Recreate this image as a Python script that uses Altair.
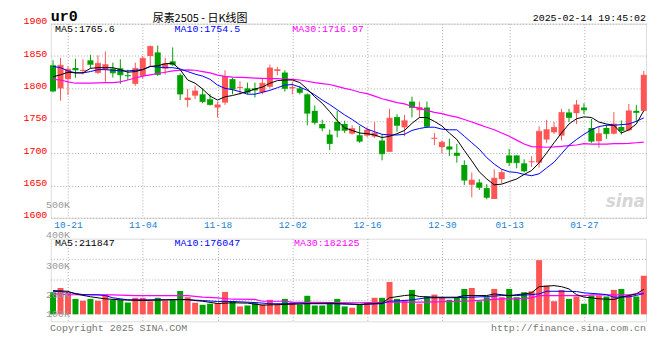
import altair as alt
import pandas as pd

# ---------------- data ----------------
idx = list(range(80))
opens = [1835.7, 1800, 1814.3, 1831.6, 1827, 1843.4, 1824, 1828.6, 1830.6, 1831,
         1820.4, 1807, 1819.4, 1850, 1855.6, 1830.6, 1841.8, 1820.4, 1782, 1788.8,
         1790.8, 1783.2, 1770.4, 1778, 1814.3, 1800.5, 1800, 1800, 1794, 1802.5,
         1827, 1824.5, 1800, 1800, 1790.8, 1765.3, 1744.9, 1728.6, 1748, 1744.9,
         1730, 1727.6, 1727, 1725.5, 1719.4, 1702, 1755.6, 1739.8, 1779.6, 1766.3,
         1770.4, 1722, 1709.2, 1710.2, 1700.5, 1681.6, 1651, 1654.6, 1645.9, 1629,
         1659.7, 1696.4, 1696.4, 1684.2, 1686, 1685.2, 1720.9, 1732.1, 1727, 1762.8,
         1761.7, 1770.4, 1738.8, 1718.4, 1738.8, 1730, 1740.3, 1735.2, 1765.3, 1765.3]
highs = [1843.4, 1847, 1834.2, 1845.9, 1844.9, 1852, 1851, 1857, 1839.8, 1845,
         1829, 1839.8, 1850, 1866.3, 1866.3, 1847.4, 1863.3, 1823, 1799, 1804,
         1800, 1791.3, 1779.6, 1828, 1816.3, 1811, 1809, 1809, 1815.3, 1836.7,
         1833, 1828, 1810, 1804, 1792.3, 1773.5, 1751.5, 1736.2, 1765.3, 1750,
         1742.9, 1742.3, 1739.8, 1748, 1728.6, 1768.4, 1760, 1759, 1787.2, 1779.6,
         1779.6, 1731, 1719.4, 1722.4, 1714.3, 1688.8, 1670, 1659.7, 1652, 1675,
         1675, 1706.6, 1696.4, 1690.3, 1695, 1741.3, 1751.5, 1748, 1768.4, 1768.4,
         1782.1, 1777, 1753, 1741.3, 1743.9, 1763.3, 1750.5, 1776, 1774.5, 1827]
lows = [1793.9, 1781, 1789.8, 1816.3, 1821.4, 1830.6, 1822, 1810, 1816.8, 1807,
        1812.8, 1804, 1815.3, 1834.7, 1819.4, 1821.4, 1834.7, 1782, 1771, 1783.7,
        1777, 1773.5, 1755, 1774.5, 1790.8, 1790, 1791, 1786, 1790.8, 1800,
        1820.4, 1795, 1790.8, 1790.8, 1742.9, 1743.9, 1733.7, 1704.6, 1724.5, 1731,
        1728.6, 1715.8, 1724.5, 1723.5, 1688.8, 1702, 1733, 1726, 1755.1, 1755.1,
        1738.8, 1712.2, 1699.5, 1695.4, 1685.2, 1650.5, 1631.6, 1642.9, 1628.6, 1629,
        1653, 1680, 1676.5, 1670, 1678.6, 1677.6, 1715.8, 1729.6, 1719.4, 1748,
        1744.9, 1760.2, 1715.8, 1708.2, 1722, 1728.6, 1728.6, 1733.7, 1748, 1765.3]
closes = [1795.9, 1835.7, 1829.6, 1828.6, 1828, 1837.2, 1838.8, 1836.7, 1824, 1821,
          1819.4, 1831, 1846.4, 1864.8, 1821.4, 1838.3, 1836.7, 1791.3, 1785.2, 1796,
          1779.6, 1775, 1774.5, 1818.4, 1799, 1801.5, 1794, 1797.4, 1808, 1831.6,
          1829, 1800, 1801.5, 1793.9, 1761.7, 1747.4, 1738.8, 1714.8, 1735.2, 1735.2,
          1737.8, 1718.4, 1735.7, 1731, 1699, 1754, 1742.9, 1750, 1770.4, 1770.4,
          1741.3, 1723, 1716.8, 1706.1, 1696.4, 1658.2, 1658.2, 1647, 1631.6, 1661.2,
          1670, 1685.2, 1685.2, 1672.4, 1686.7, 1733.7, 1736.2, 1739.8, 1762.8, 1755.1,
          1774.5, 1766.8, 1718.4, 1730, 1730, 1744.9, 1734.7, 1765.3, 1762.8, 1820.4]
volumes = [187000, 223000, 187000, 131000, 115000, 131000, 115000, 167000, 123000, 123000,
           100000, 140000, 140000, 111000, 140000, 117000, 123000, 198000, 145000, 98000,
           81000, 90000, 95000, 190000, 111000, 67000, 75000, 95000, 84000, 123000,
           84000, 131000, 103000, 84000, 157000, 75000, 75000, 103000, 131000, 67000,
           56000, 81000, 103000, 140000, 140000, 274000, 131000, 123000, 207000, 90000,
           151000, 167000, 145000, 123000, 145000, 215000, 223000, 111000, 145000, 215000,
           145000, 215000, 145000, 187000, 195000, 458000, 243000, 111000, 207000, 131000,
           151000, 90000, 159000, 159000, 151000, 207000, 215000, 159000, 151000, 326000]

ma5 = [1818, 1821, 1825, 1824, 1824, 1831, 1832, 1832, 1832, 1829,
       1825, 1826, 1829, 1834, 1835, 1838, 1839, 1829, 1813, 1808,
       1799, 1788, 1782, 1787, 1789, 1792, 1795, 1799, 1802, 1808,
       1812, 1813, 1813, 1809, 1799, 1787, 1777, 1764, 1750, 1739,
       1735, 1731, 1730, 1728, 1724, 1726, 1730, 1735, 1746, 1755,
       1755, 1749, 1742, 1731, 1721, 1704, 1688, 1671, 1660, 1651,
       1652, 1656, 1660, 1667, 1673, 1685, 1700, 1716, 1731, 1745,
       1753, 1756, 1755, 1748, 1745, 1743, 1731, 1736, 1745, 1765.6]
ma10 = [1834, 1832, 1827, 1824, 1824, 1826, 1829, 1829, 1828, 1827,
        1827, 1828, 1829, 1834, 1833, 1832, 1832, 1830, 1826, 1822,
        1819, 1814, 1805, 1800, 1798, 1795, 1791, 1791, 1794, 1797,
        1801, 1805, 1806, 1802, 1797, 1790, 1782, 1775, 1767, 1759,
        1752, 1744, 1737, 1733, 1729, 1728, 1728, 1729, 1735, 1738,
        1740, 1740, 1737, 1736, 1736, 1726, 1716, 1706, 1693, 1683,
        1675, 1671, 1670, 1667, 1665, 1668, 1677, 1686, 1699, 1712,
        1721, 1729, 1736, 1741, 1743, 1743, 1744, 1745, 1749, 1754.5]
ma30 = [1814, 1813, 1810, 1808, 1808, 1808, 1808.5, 1809, 1809, 1810,
        1813, 1816, 1819, 1821, 1823, 1825, 1827, 1828, 1828.5, 1828,
        1826, 1824, 1820.5, 1818.5, 1817.5, 1817, 1816.5, 1816, 1815.5, 1815,
        1815, 1814.5, 1814, 1813, 1811, 1809, 1807.5, 1806, 1803, 1800,
        1797.5, 1794, 1792, 1788, 1784, 1781, 1778, 1776, 1772, 1769,
        1766, 1763, 1761, 1758, 1755.5, 1752, 1748, 1744, 1740, 1736,
        1731, 1726, 1720, 1714, 1710, 1709.5, 1709, 1709.5, 1710.5, 1711.5,
        1712.5, 1714.5, 1714, 1714, 1714, 1714.5, 1714.5, 1715, 1716, 1716.97]

vma5_i = [0, 2, 3, 5, 7, 9, 12, 15, 18, 19, 20, 22, 24, 26, 28, 31, 34, 37, 41, 44,
          45, 47, 48, 49, 51, 54, 55, 58, 59, 61, 63, 64, 65, 67, 68, 69, 70, 71, 72, 73,
          75, 76, 77, 78, 79]
vma5 = [201000, 195000, 173000, 149000, 131000, 123000, 117000, 123000, 126000, 117000,
        111000, 92000, 98000, 95000, 78000, 84000, 90000, 95000, 84000, 95000,
        140000, 159000, 165000, 151000, 145000, 145000, 159000, 159000, 173000, 159000,
        173000, 182000, 234000, 243000, 234000, 215000, 167000, 146000, 140000, 131000,
        126000, 145000, 159000, 173000, 211847]
vma10_i = [0, 2, 4, 6, 7, 8, 10, 15, 17, 20, 22, 24, 27, 29, 31, 33, 35, 37, 41, 44,
           45, 47, 48, 50, 53, 56, 58, 60, 62, 64, 65, 66, 68, 70, 71, 73, 74, 75, 77, 78, 79]
vma10 = [195000, 187000, 167000, 165000, 159000, 140000, 123000, 123000, 126000, 117000,
         109000, 109000, 100000, 90000, 90000, 95000, 90000, 90000, 84000, 90000,
         111000, 117000, 123000, 140000, 140000, 145000, 151000, 159000, 159000, 167000,
         173000, 195000, 195000, 193000, 182000, 173000, 167000, 145000, 148000, 160000, 176047]
vma30_i = [0, 2, 8, 11, 18, 20, 22, 24, 27, 28, 31, 32, 37, 41, 46, 50, 55, 58, 60, 62,
           64, 65, 71, 72, 77, 79]
vma30 = [173000, 167000, 165000, 159000, 159000, 145000, 140000, 128000, 126000, 111000,
         111000, 103000, 100000, 98000, 103000, 103000, 111000, 123000, 131000, 131000,
         140000, 159000, 159000, 165000, 165000, 182125]

tick_idx = [2, 12, 22, 32, 42, 52, 61, 71]
tick_lab = ['10-21', '11-04', '11-18', '12-02', '12-16', '12-30', '01-13', '01-27']
price_ticks = [1600, 1650, 1700, 1750, 1800, 1850, 1900]
vol_labels = ['400K', '300K', '200K', '100K']
vol_grid = [465000, 290000, 115000]

# ---------------- styling ----------------
W, PH, VH = 598, 195, 83
RED, GREEN = '#ff5555', '#00a000'
GRID = '#aaaaaa'
MONO = 'Liberation Mono'

df = pd.DataFrame({'i': idx, 'o': opens, 'h': highs, 'l': lows, 'c': closes, 'v': volumes})
df['d'] = ['up' if c >= o else 'down' for o, c in zip(opens, closes)]
ma_df = pd.DataFrame({'i': idx, 'ma5': ma5, 'ma10': ma10, 'ma30': ma30})

xscale = alt.Scale(domain=[-0.3, 79.3], nice=False, zero=False, padding=0)
color = alt.Color('d:N', scale=alt.Scale(domain=['up', 'down'], range=[RED, GREEN]), legend=None)
lab_expr = "[" + ",".join("'%s'" % t for t in tick_lab) + "][indexof([" + \
    ",".join(str(t) for t in tick_idx) + "], datum.value)]"

x_axis_price = alt.Axis(values=tick_idx, labelExpr=lab_expr, grid=True, gridColor=GRID,
                        gridDash=[1, 2], ticks=False, domain=False, labelColor='#1a7fd4',
                        labelPadding=2, labelFlush=False, labelFont=MONO, labelFontSize=9.5)
x_axis_vol = alt.Axis(values=tick_idx, grid=True, gridColor=GRID, gridDash=[1, 2],
                      ticks=False, domain=False, labels=False)
yscale = alt.Scale(domain=[1600, 1900], nice=False, zero=False)
y_axis_price = alt.Axis(values=price_ticks, grid=True, gridColor=GRID, gridDash=[1, 2],
                        ticks=False, domain=False, labelColor='#ff0000', labelBaseline='alphabetic',
                        labelPadding=4, format='d', labelFont=MONO, labelFontSize=10,
                        labelOverlap=False, labelBound=False, tickCount=7)
vscale = alt.Scale(domain=[-58600, 639500], nice=False, zero=False)


def px(field):
    return alt.X(field, type='quantitative', scale=xscale, axis=x_axis_price, title=None)


def py(field):
    return alt.Y(field, type='quantitative', scale=yscale, axis=y_axis_price, title=None)


def vx(field):
    return alt.X(field, type='quantitative', scale=xscale, axis=x_axis_vol, title=None)


def vy(field):
    return alt.Y(field, type='quantitative', scale=vscale, axis=None, title=None)


def txt(s, x, y, col='#000000', size=10, align='left', font=MONO, weight='normal', style='normal'):
    return alt.Chart(alt.Data(values=[{}])).mark_text(
        text=s, align=align, baseline='alphabetic', font=font, fontSize=size,
        fontWeight=weight, fontStyle=style, color=col
    ).encode(x=alt.value(x), y=alt.value(y))


base = alt.Chart(df)
wick = base.mark_rule(strokeWidth=1).encode(x=px('i'), y=py('l'), y2='h:Q', color=color)
body = base.mark_bar(size=6).encode(x=px('i'), y=py('o'), y2='c:Q', color=color)
doji = base.mark_tick(orient='horizontal', size=6, thickness=1).encode(
    x=px('i'), y=py('c'), color=color)
l5 = alt.Chart(ma_df).mark_line(color='#000000', strokeWidth=1).encode(x=px('i'), y=py('ma5'))
l10 = alt.Chart(ma_df).mark_line(color='#0000ff', strokeWidth=1).encode(x=px('i'), y=py('ma10'))
l30 = alt.Chart(ma_df).mark_line(color='#ff00ff', strokeWidth=1.2).encode(x=px('i'), y=py('ma30'))

price = alt.layer(
    wick, body, doji, l30, l10, l5,
    txt('ur0', 0, -3, size=15, weight='bold'),
    txt('尿素2505 - 日K线图', 150, -1.3, size=11, align='center', font='Noto Sans CJK SC'),
    txt('2025-02-14 19:45:02', 598, -3, align='right'),
    txt('MA5:1765.6', 4.3, 8.8),
    txt('MA10:1754.5', 124.3, 8.8, col='#0000ff'),
    txt('MA30:1716.97', 242.6, 8.8, col='#ff00ff'),
    txt('500K', -4.7, 184.8, col='#999999'),
    txt('sina', 597, 184, col='#d6d6d6', size=17, align='right', font='DejaVu Sans',
        weight='bold', style='italic'),
).properties(width=W, height=PH)

vbar = alt.Chart(df).mark_bar(size=6).encode(x=vx('i'), y=vy('v'), y2=alt.datum(0), color=color)
vgrid = alt.Chart(pd.DataFrame({'g': vol_grid})).mark_rule(
    color=GRID, strokeDash=[1, 2]).encode(y=vy('g'))
v5 = alt.Chart(pd.DataFrame({'i': vma5_i, 'm': vma5})).mark_line(
    color='#000000', strokeWidth=1).encode(x=vx('i'), y=vy('m'))
v10 = alt.Chart(pd.DataFrame({'i': vma10_i, 'm': vma10})).mark_line(
    color='#0000ff', strokeWidth=1).encode(x=vx('i'), y=vy('m'))
v30 = alt.Chart(pd.DataFrame({'i': vma30_i, 'm': vma30})).mark_line(
    color='#ff00ff', strokeWidth=1.2).encode(x=vx('i'), y=vy('m'))

vol_label_y = [-0.3, 30, 59.4, 79]
vol = alt.layer(
    vgrid, vbar, v30, v10, v5,
    *[txt(s, -4.7, yy, col='#999999') for s, yy in zip(vol_labels, vol_label_y)],
    txt('MA5:211847', 4.3, 7.2),
    txt('MA10:176047', 124.3, 7.2, col='#0000ff'),
    txt('MA30:182125', 244.3, 7.2, col='#ff00ff'),
    txt('Copyright 2025 SINA.COM', -0.7, 92.5, col='#777777'),
    txt('http://finance.sina.com.cn', 598, 92.5, col='#777777', align='right'),
).properties(width=W, height=VH)

chart = alt.vconcat(price, vol, spacing=21, bounds='flush').properties(
    padding={'left': 14, 'top': -1, 'right': 4, 'bottom': 2}
).configure_view(stroke='#999999', strokeWidth=1).configure(background='#ffffff')

chart.save("out.html", embed_options={"renderer": "svg", "actions": False})
